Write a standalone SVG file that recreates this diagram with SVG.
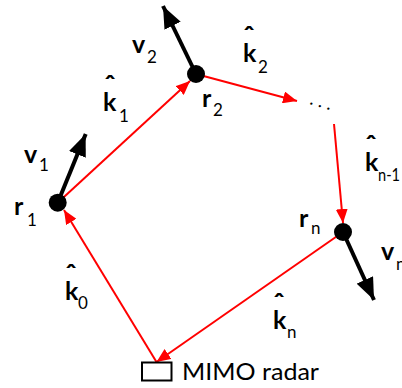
<svg xmlns="http://www.w3.org/2000/svg" width="402" height="388" viewBox="0 0 402 388">
<defs>
<style>
.red{stroke:#ff0000;stroke-width:2;fill:none}
.blk{stroke:#000;stroke-width:4;fill:none}
.node{fill:#000}
.lb{font-family:Lato,"Open Sans","DejaVu Sans",sans-serif;font-weight:bold;font-size:25px;fill:#000}
.sub{font-family:Lato,"Open Sans","DejaVu Sans",sans-serif;font-size:17px;fill:#000}
.hat{font-family:Lato,"Open Sans","DejaVu Sans",sans-serif;font-weight:bold;font-size:28px;fill:#000;text-anchor:middle}
.txt{font-family:Lato,"Open Sans","DejaVu Sans",sans-serif;font-size:24px;fill:#000}
</style>
<marker id="ra" markerUnits="userSpaceOnUse" markerWidth="14" markerHeight="12" refX="14" refY="6" orient="auto"><path d="M0,0 L14,6 L0,12 z" fill="#ff0000"/></marker>
<marker id="ba" markerUnits="userSpaceOnUse" markerWidth="22" markerHeight="18" refX="22" refY="9" orient="auto"><path d="M0,0 L22,9 L0,18 z" fill="#000"/></marker>
</defs>
<rect width="402" height="388" fill="#fff"/>
<g id="connectors">
<line class="red" x1="156.5" y1="362" x2="64" y2="210" marker-end="url(#ra)"/>
<line class="red" x1="57.7" y1="202.7" x2="190" y2="81" marker-end="url(#ra)"/>
<line class="red" x1="196" y1="74" x2="297" y2="101" marker-end="url(#ra)"/>
<line class="red" x1="334" y1="124" x2="343" y2="223" marker-end="url(#ra)"/>
<line class="red" x1="343" y1="232" x2="156.5" y2="362" marker-end="url(#ra)"/>
<line class="blk" x1="57.7" y1="202.7" x2="85.7" y2="134" marker-end="url(#ba)"/>
<line class="blk" x1="196" y1="74" x2="163" y2="6" marker-end="url(#ba)"/>
<line class="blk" x1="343" y1="232" x2="374" y2="300" marker-end="url(#ba)"/>
</g>
<g id="r1">
<circle class="node" cx="57.7" cy="202.7" r="9"/>
<text class="lb" x="14" y="215">r</text><text class="sub" x="27" y="226">1</text>
</g>
<g id="r2">
<circle class="node" cx="196" cy="74" r="9"/>
<text class="lb" x="202" y="107">r</text><text class="sub" x="213" y="116">2</text>
</g>
<g id="rn">
<circle class="node" cx="343" cy="232" r="9"/>
<text class="lb" x="299" y="227">r</text><text class="sub" x="311" y="234">n</text>
</g>
<g id="dots">
<text x="309" y="104" transform="rotate(16 309 104)" style="font-family:Lato,sans-serif;font-size:18px;fill:#000">. . .</text>
</g>
<g id="radar">
<rect x="142" y="362.5" width="29.5" height="18" fill="#fff" stroke="#000" stroke-width="2"/>
<text class="txt" x="182" y="380" textLength="137" lengthAdjust="spacingAndGlyphs">MIMO radar</text>
</g>
<g id="labels">
<text class="lb" x="24" y="163">v</text><text class="sub" x="39" y="171">1</text>
<text class="lb" x="132" y="53">v</text><text class="sub" x="147" y="63">2</text>
<text class="lb" x="381" y="260">v</text><text class="sub" x="396" y="270">n</text>
<text class="hat" x="110" y="96">ˆ</text><text class="lb" x="103" y="111">k</text><text class="sub" x="119" y="122">1</text>
<text class="hat" x="249" y="47">ˆ</text><text class="lb" x="243" y="62">k</text><text class="sub" x="258" y="73">2</text>
<text class="hat" x="371" y="156">ˆ</text><text class="lb" x="365" y="171">k</text><text class="sub" x="378" y="181" textLength="22" lengthAdjust="spacingAndGlyphs">n-1</text>
<text class="hat" x="71" y="285">ˆ</text><text class="lb" x="65" y="300">k</text><text class="sub" x="78" y="309">0</text>
<text class="hat" x="279" y="314">ˆ</text><text class="lb" x="273" y="329">k</text><text class="sub" x="287" y="338">n</text>
</g>
</svg>
